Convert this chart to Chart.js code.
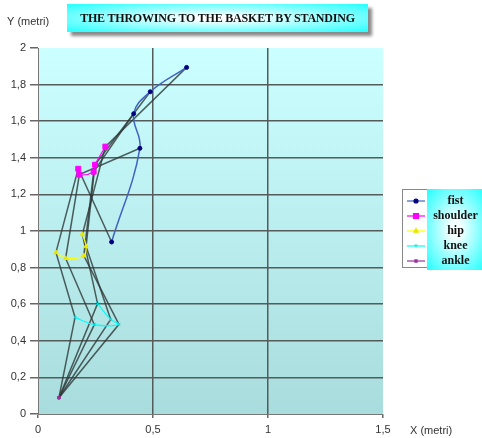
<!DOCTYPE html>
<html lang="en">
<head>
<meta charset="UTF-8">
<title>The throwing to the basket by standing</title>
<style>
    body { margin: 0; background: #fff; }
    #wrap { position: relative; width: 482px; height: 438px; overflow: hidden; }
    canvas { position: absolute; left: 0; top: 0; }
    #title {
        position: absolute; left: 67px; top: 4px; width: 301px; height: 28px;
        background: radial-gradient(ellipse at center, #ffffff 10%, #2ff 100%);
        box-shadow: 4px 4px 3px #8a8a8a;
        font: bold 12px "Liberation Serif", "Times New Roman", serif;
        color: #111;
        line-height: 28px; text-align: center; letter-spacing: -0.2px;
    }
    #legendText {
        position: absolute; left: 427px; top: 189px; width: 57px; height: 81px;
        background: radial-gradient(ellipse at center, #f4ffff 15%, #2ff 100%);
        font: bold 12px "Liberation Serif", "Times New Roman", serif;
        color: #111; text-align: center;
    }
    #legendText div { height: 15px; line-height: 15px; }
</style>
<script src="https://cdn.jsdelivr.net/npm/chart.js"></script>
</head>
<body>
<div id="wrap">
    <canvas id="grafico" width="482" height="438"></canvas>
    <div id="title">THE THROWING TO THE BASKET BY STANDING</div>
    <div id="legendText"></div>
</div>
<script>
    // joint positions (metres), one value per frame
    const jointNames = ["fist", "shoulder", "hip", "knee", "ankle"];
    const fistX = [0.32, 0.443, 0.416, 0.488, 0.646];
    const fistY = [0.94, 1.452, 1.641, 1.761, 1.894];
    const shoulderX = [0.175, 0.18, 0.242, 0.248, 0.293];
    const shoulderY = [1.34, 1.308, 1.324, 1.362, 1.461];
    const hipX = [0.078, 0.12, 0.199, 0.209, 0.193];
    const hipY = [0.883, 0.851, 0.865, 0.916, 0.982];
    const kneeX = [0.161, 0.245, 0.352, 0.316, 0.259];
    const kneeY = [0.528, 0.488, 0.49, 0.517, 0.603];
    const ankleX = [0.091, 0.091, 0.091, 0.091, 0.091];
    const ankleY = [0.089, 0.089, 0.089, 0.089, 0.089];

    const xTicks = [0, 0.5, 1, 1.5];
    const yTicks = [0, 0.2, 0.4, 0.6, 0.8, 1, 1.2, 1.4, 1.6, 1.8, 2];

    const jointX = { fist: fistX, shoulder: shoulderX, hip: hipX, knee: kneeX, ankle: ankleX };
    const jointY = { fist: fistY, shoulder: shoulderY, hip: hipY, knee: kneeY, ankle: ankleY };

    const styles = {
        fist:     { color: "#3f63c4", point: "#000080", style: "circle", r: 2 },
        shoulder: { color: "#ff00ff", point: "#ff00ff", style: "rect", r: 3.5 },
        hip:      { color: "#ffff00", point: "#e8e800", style: "triangle", r: 2.5 },
        knee:     { color: "#00ffff", point: "#00e0e0", style: "crossRot", r: 2 },
        ankle:    { color: "#993399", point: "#993399", style: "rect", r: 1.5 },
    };

    const pts = (xs, ys) => xs.map((x, i) => ({ x: x, y: ys[i] }));

    const datasets = [];
    jointNames.forEach((name) => {
        const s = styles[name];
        datasets.push({
            label: name,
            data: pts(jointX[name], jointY[name]),
            showLine: true,
            tension: 0.4,
            borderColor: s.color,
            borderWidth: name === "fist" ? 1.5 : 1.2,
            pointStyle: s.style,
            pointRadius: s.r,
            pointBackgroundColor: s.point,
            pointBorderColor: s.point,
            pointBorderWidth: 1,
            order: 0,
        });
    });

    // body segments of each frame: ankle - knee - hip - shoulder - fist
    const chain = ["ankle", "knee", "hip", "shoulder", "fist"];
    fistX.forEach((_, f) => {
        datasets.push({
            label: "frame " + (f + 1),
            data: chain.map((j) => ({ x: jointX[j][f], y: jointY[j][f] })),
            showLine: true,
            tension: 0,
            borderColor: "rgba(45,55,55,0.8)",
            borderWidth: 1.5,
            pointRadius: 0,
            order: 1,
        });
    });

    const fmt = (v) => String(Math.round(v * 10) / 10).replace(".", ",");

    const plotBg = {
        id: "plotBg",
        beforeDraw(chart) {
            const { ctx, chartArea: a } = chart;
            const g = ctx.createLinearGradient(0, a.top, 0, a.bottom);
            g.addColorStop(0, "#ccffff");
            g.addColorStop(1, "#a9dcdc");
            ctx.save();
            ctx.fillStyle = g;
            ctx.fillRect(a.left, a.top, a.right - a.left, a.bottom - a.top);
            ctx.restore();
        },
    };

    const extras = {
        id: "extras",
        afterDraw(chart) {
            const ctx = chart.ctx;
            ctx.save();
            ctx.fillStyle = "#333";
            ctx.font = "11px 'Liberation Sans', Arial, sans-serif";
            ctx.textBaseline = "middle";
            ctx.fillText("Y (metri)", 7, 22);
            ctx.fillText("X (metri)", 410, 431);

            // legend swatches
            ctx.fillStyle = "#fff";
            ctx.fillRect(402, 189, 25, 79);
            ctx.strokeStyle = "#888";
            ctx.lineWidth = 1;
            ctx.strokeRect(402.5, 189.5, 25, 78);
            jointNames.forEach((name, i) => {
                const s = styles[name];
                const y = 201 + i * 15;
                ctx.strokeStyle = s.color;
                ctx.lineWidth = 1.2;
                ctx.beginPath();
                ctx.moveTo(407, y);
                ctx.lineTo(425, y);
                ctx.stroke();
                ctx.fillStyle = s.point;
                ctx.strokeStyle = s.point;
                Chart.helpers.drawPoint(ctx, { pointStyle: s.style, radius: s.r, rotation: 0, borderWidth: 1 }, 416, y);
            });
            ctx.restore();
        },
    };

    new Chart(document.getElementById("grafico"), {
        type: "scatter",
        data: { datasets: datasets },
        plugins: [plotBg, extras],
        options: {
            responsive: false,
            animation: false,
            layout: { padding: { top: 48, right: 99, left: 0, bottom: 0 } },
            plugins: { legend: { display: false }, tooltip: { enabled: false } },
            scales: {
                x: {
                    type: "linear",
                    min: 0, max: 1.5,
                    afterFit: (s) => { s.height = 24; },
                    afterBuildTicks: (s) => { s.ticks = xTicks.map((v) => ({ value: v })); },
                    ticks: {
                        callback: fmt, color: "#333", padding: 5, maxRotation: 0,
                        font: { family: "'Liberation Sans', Arial, sans-serif", size: 11 },
                    },
                    grid: {
                        color: (c) => (c.tick && (c.tick.value === 0 || c.tick.value === 1.5) ? "rgba(0,0,0,0)" : "#555b5b"),
                        lineWidth: 1.5, tickColor: "#666", tickLength: 4,
                    },
                    border: { color: "#777", width: 1 },
                },
                y: {
                    min: 0, max: 2,
                    afterFit: (s) => { s.width = 38; },
                    afterBuildTicks: (s) => { s.ticks = yTicks.map((v) => ({ value: v })); },
                    ticks: {
                        callback: fmt, color: "#333", padding: 4,
                        font: { family: "'Liberation Sans', Arial, sans-serif", size: 11 },
                    },
                    grid: {
                        color: (c) => (c.tick && (c.tick.value === 0 || c.tick.value === 2) ? "rgba(0,0,0,0)" : "#555b5b"),
                        lineWidth: 1.5, tickColor: "#666", tickLength: 8,
                    },
                    border: { color: "#777", width: 1 },
                },
            },
        },
    });

    document.getElementById("legendText").innerHTML =
        '<div style="height:4px"></div>' + jointNames.map((n) => "<div>" + n + "</div>").join("");
</script>
</body>
</html>
